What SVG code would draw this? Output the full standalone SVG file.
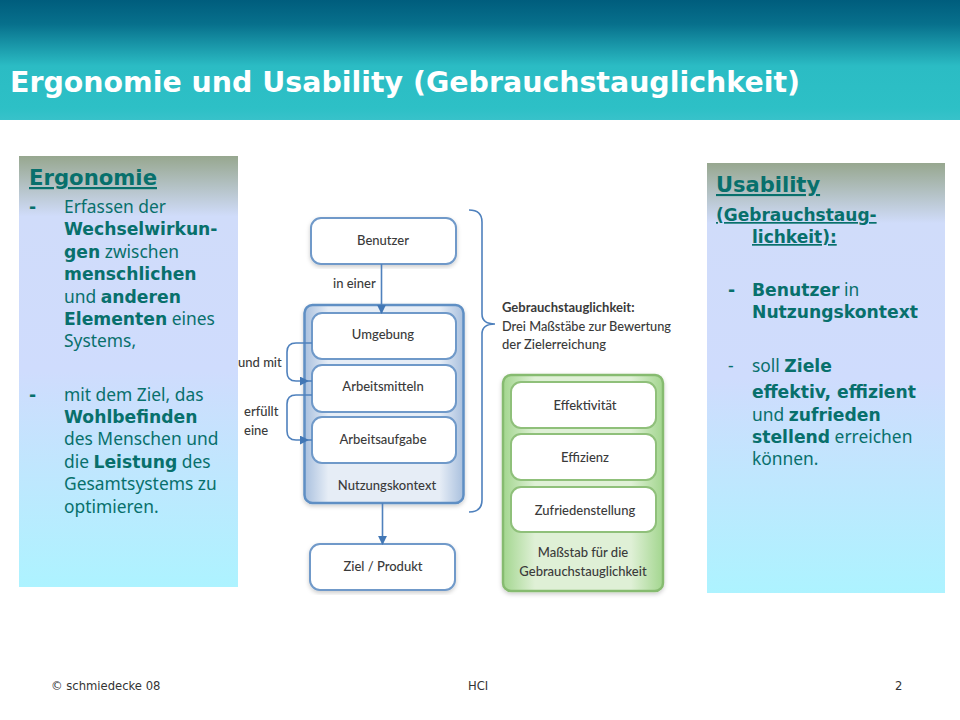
<svg xmlns="http://www.w3.org/2000/svg" width="960" height="720" viewBox="0 0 960 720">
<style>
.r{font-family:"Noto Sans","DejaVu Sans",sans-serif;font-size:17.400px;fill:#08706c}
.b{font-family:"DejaVu Sans",sans-serif;font-weight:700;font-size:17.200px;fill:#08706c}
.t{font-family:"DejaVu Sans",sans-serif;font-weight:700;fill:#08706c;text-decoration:underline}
.d{font-family:"Lato","Open Sans",sans-serif;font-size:13px;fill:#3a3a3a;font-weight:500}
.c{text-anchor:middle}
.f{font-family:"DejaVu Sans",sans-serif;font-size:11.600px;fill:#333}
.bx{fill:#fff;stroke:#6f99c9;stroke-width:2}
.gx{fill:#fff;stroke:#8fc07a;stroke-width:2}
.ln{fill:none;stroke:#4f81bd;stroke-width:1.600}
</style>
<defs>
<linearGradient id="hd" x1="0" y1="0" x2="0" y2="1"><stop offset="0" stop-color="#005d7d"/><stop offset=".2" stop-color="#07708c"/><stop offset=".55" stop-color="#2bbcc4"/><stop offset=".9" stop-color="#2dc0c6"/><stop offset="1" stop-color="#38c2ca"/></linearGradient>
<linearGradient id="pn" x1="0" y1="0" x2="0" y2="1"><stop offset="0" stop-color="#97a78f"/><stop offset=".14" stop-color="#d0dcfa"/><stop offset=".5" stop-color="#cfdcfd"/><stop offset="1" stop-color="#adf3ff"/></linearGradient>
<linearGradient id="bl" x1="0" y1="0" x2="1" y2="0"><stop offset="0" stop-color="#a9c0de"/><stop offset=".15" stop-color="#e6edf6"/><stop offset=".85" stop-color="#e6edf6"/><stop offset="1" stop-color="#a9c0de"/></linearGradient>
<linearGradient id="gr" x1="0" y1="0" x2="1" y2="0"><stop offset="0" stop-color="#a3d68f"/><stop offset=".2" stop-color="#dff0d6"/><stop offset=".8" stop-color="#dff0d6"/><stop offset="1" stop-color="#a3d68f"/></linearGradient>
<filter id="sh" x="-10%" y="-10%" width="120%" height="120%"><feDropShadow dx="0" dy="2" stdDeviation="2" flood-color="#000" flood-opacity=".2"/></filter>
<marker id="ah" viewBox="0 0 10 10" refX="9" refY="5" markerWidth="9" markerHeight="9" markerUnits="userSpaceOnUse" orient="auto"><path d="M0 0L10 5L0 10Z" fill="#4277b5"/></marker>
</defs>
<rect width="960" height="720" fill="#fff"/>
<rect id="header" width="960" height="120" fill="url(#hd)"/>
<text x="10" y="92" font-family="DejaVu Sans,sans-serif" font-weight="700" font-size="29" fill="#fff" textLength="790" lengthAdjust="spacingAndGlyphs">Ergonomie und Usability (Gebrauchstauglichkeit)</text>

<g id="panel-ergonomie">
<rect x="19" y="156" width="219" height="431" fill="url(#pn)"/>
<text class="t" x="29" y="185" font-size="22" textLength="128" lengthAdjust="spacingAndGlyphs">Ergonomie</text>
<text class="b" x="29" y="213">-</text>
<text class="r" x="64" y="213">Erfassen der</text>
<text class="b" x="64" y="235">Wechselwirkun-</text>
<text class="r" x="64" y="258"><tspan class="b">gen</tspan> zwischen</text>
<text class="b" x="64" y="280">menschlichen</text>
<text class="r" x="64" y="303">und <tspan class="b">anderen</tspan></text>
<text class="r" x="64" y="325"><tspan class="b">Elementen</tspan> eines</text>
<text class="r" x="64" y="347">Systems,</text>
<text class="b" x="29" y="401">-</text>
<text class="r" x="64" y="401">mit dem Ziel, das</text>
<text class="b" x="64" y="423">Wohlbefinden</text>
<text class="r" x="64" y="445">des Menschen und</text>
<text class="r" x="64" y="468">die <tspan class="b">Leistung</tspan> des</text>
<text class="r" x="64" y="490">Gesamtsystems zu</text>
<text class="r" x="64" y="513">optimieren.</text>
</g>

<g id="panel-usability">
<rect x="707" y="163" width="238" height="430" fill="url(#pn)"/>
<text class="t" x="716" y="192" font-size="21">Usability</text>
<text class="t" x="716" y="221" font-size="17">(Gebrauchstaug-</text>
<text class="t" x="752" y="243" font-size="17">lichkeit):</text>
<text class="b" x="728" y="296">-</text>
<text class="r" x="752" y="296"><tspan class="b">Benutzer</tspan> in</text>
<text class="b" x="752" y="318">Nutzungskontext</text>
<text class="r" x="728" y="372">-</text>
<text class="r" x="752" y="372">soll <tspan class="b">Ziele</tspan></text>
<text class="b" x="752" y="398">effektiv, effizient</text>
<text class="r" x="752" y="421">und <tspan class="b">zufrieden</tspan></text>
<text class="r" x="752" y="443"><tspan class="b">stellend</tspan> erreichen</text>
<text class="r" x="752" y="465">können.</text>
</g>

<g id="nutzungskontext">
<rect x="304.500" y="305" width="159" height="198" rx="8" fill="url(#bl)" stroke="#5f8fc4" stroke-width="2.500" filter="url(#sh)"/>
<text class="d c" x="387" y="490">Nutzungskontext</text>
</g>
<g id="benutzer"><rect class="bx" x="311" y="218" width="145" height="46" rx="10" filter="url(#sh)"/><text class="d c" x="383" y="245">Benutzer</text></g>
<g id="umgebung"><rect class="bx" x="312" y="313" width="144" height="46" rx="10"/><text class="d c" x="383" y="339">Umgebung</text></g>
<g id="arbeitsmitteln"><rect class="bx" x="312" y="365" width="144" height="47" rx="10"/><text class="d c" x="383" y="391">Arbeitsmitteln</text></g>
<g id="arbeitsaufgabe"><rect class="bx" x="312" y="417" width="144" height="46" rx="10"/><text class="d c" x="383" y="444">Arbeitsaufgabe</text></g>
<g id="ziel"><rect class="bx" x="310" y="544" width="145" height="46" rx="10" filter="url(#sh)"/><text class="d c" x="383" y="571">Ziel / Produkt</text></g>

<g id="massstab">
<rect x="503" y="375" width="160" height="216" rx="8" fill="url(#gr)" stroke="#86bb70" stroke-width="2.500" filter="url(#sh)"/>
<text class="d c" x="583" y="557">Maßstab für die</text>
<text class="d c" x="583" y="576">Gebrauchstauglichkeit</text>
</g>
<g id="effektivitaet"><rect class="gx" x="511" y="382" width="145" height="46" rx="10"/><text class="d c" x="585" y="410">Effektivität</text></g>
<g id="effizienz"><rect class="gx" x="511" y="434" width="145" height="46" rx="10"/><text class="d c" x="585" y="462">Effizienz</text></g>
<g id="zufriedenstellung"><rect class="gx" x="511" y="487" width="145" height="45" rx="10"/><text class="d c" x="585" y="515">Zufriedenstellung</text></g>

<g id="gebrauchstauglichkeit">
<text class="d" x="502" y="312" style="font-weight:700">Gebrauchstauglichkeit:</text>
<text class="d" x="502" y="331" textLength="169" lengthAdjust="spacingAndGlyphs">Drei Maßstäbe zur Bewertung</text>
<text class="d" x="502" y="349">der Zielerreichung</text>
</g>

<g id="connectors">
<path class="ln" d="M381.500 264V313" marker-end="url(#ah)"/>
<path class="ln" d="M382.500 503V544" marker-end="url(#ah)"/>
<path class="ln" d="M312 343H296Q287 343 287 352V372Q287 381 296 381H308" marker-end="url(#ah)"/>
<path class="ln" d="M308 381H312"/>
<path class="ln" d="M312 395H296Q287 395 287 404V431Q287 440 296 440H308" marker-end="url(#ah)"/>
<path class="ln" d="M308 440H312"/>
<path class="ln" d="M469 210Q482 210 482 222V314Q482 324 495 324Q482 324 482 334V500Q482 512 469 512"/>
</g>

<g id="labels">
<text class="d" x="333" y="288">in einer</text>
<text class="d" x="238" y="367">und mit</text>
<text class="d" x="244" y="416">erfüllt</text>
<text class="d" x="244" y="435">eine</text>
</g>

<g id="footer">
<text class="f" x="51" y="690">© schmiedecke 08</text>
<text class="f" x="468" y="690">HCI</text>
<text class="f" x="895" y="690">2</text>
</g>
</svg>
